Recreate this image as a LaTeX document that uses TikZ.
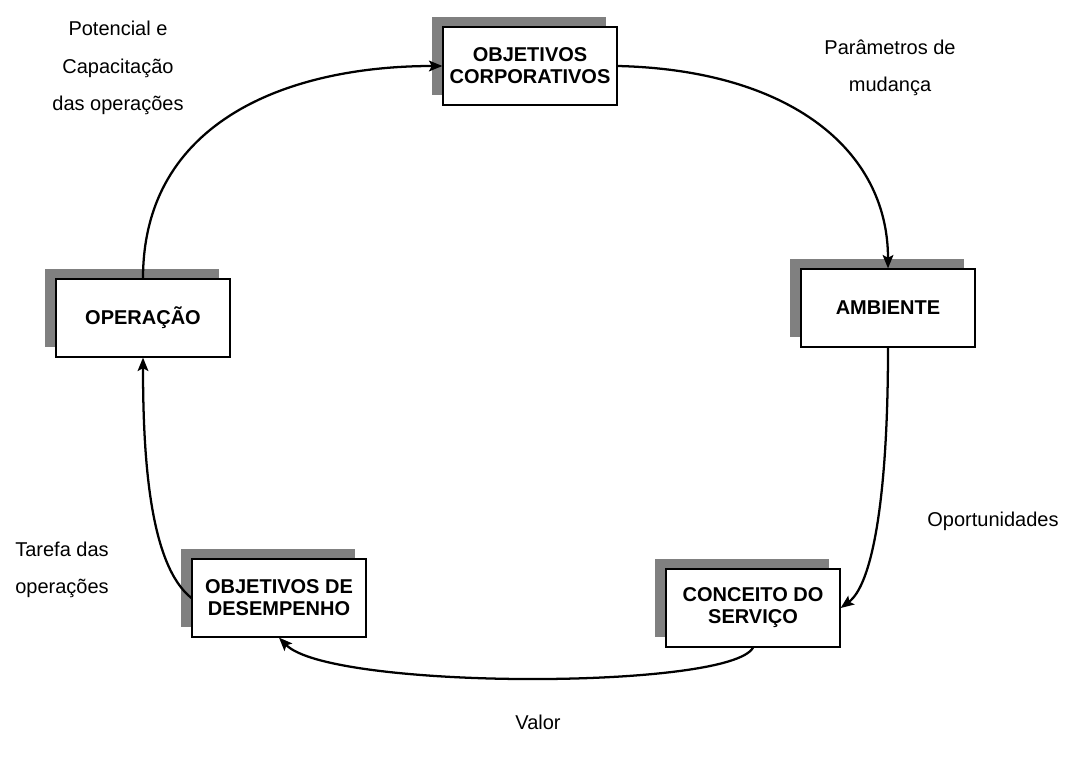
\documentclass[tikz,border=0pt]{standalone}
\usepackage{fontspec}
\setmainfont{Liberation Sans}
\usetikzlibrary{positioning, arrows.meta, shadows}
\definecolor{boxline}{RGB}{0,0,0}
\definecolor{shade}{RGB}{128,128,128}
\tikzset{
  stagebox/.style={
    rectangle, draw=boxline, line width=0.9pt,
    fill=white,
    minimum width=130.5pt, minimum height=58.5pt,
    align=center, inner sep=2pt,
    font=\fontsize{15}{16.5}\selectfont\bfseries,
    general shadow={fill=shade, shadow xshift=-8.25pt, shadow yshift=7.5pt}
  },
  cyclelabel/.style={
    align=center, inner sep=0pt,
    font=\fontsize{15}{28}\selectfont
  },
  cyclearrow/.style={
    -{Stealth[length=10pt, width=8pt, inset=2pt]}, draw=boxline, line width=1.7pt
  }
}

\begin{document}
\begin{tikzpicture}[x=0.75pt, y=-0.75pt]
  \useasboundingbox (0,0) rectangle (1069,763);

  \node[stagebox] (corp) at (530,66) {OBJETIVOS\\CORPORATIVOS};
  \node[stagebox] (amb) at (888,308) {AMBIENTE};
  \node[stagebox] (serv) at (753,608) {CONCEITO DO\\SERVIÇO};
  \node[stagebox] (desemp) at (279,598) {OBJETIVOS DE\\DESEMPENHO};
  \node[stagebox] (oper) at (143,318) {OPERAÇÃO};

  \node[cyclelabel] (potencial) at (118,68) {Potencial e\\Capacitação\\das operações};
  \node[cyclelabel] (mudanca) at (890,68) {Parâmetros de\\mudança};
  \node[cyclelabel] (oport) at (993,521) {Oportunidades};
  \node[cyclelabel] (tarefa) at (62,570) {Tarefa das\\operações};
  \node[cyclelabel] (valor) at (538,722) {Valor};

  \draw[cyclearrow] (oper.north) .. controls (143,120) and (290,66) .. (corp.west);
  \draw[cyclearrow] (corp.east) .. controls (790,70) and (888,150) .. (amb.north);
  \draw[cyclearrow] (amb.south) .. controls (888,500) and (872,585) .. (serv.east);
  \draw[cyclearrow] (serv.south) .. controls (730,690) and (330,690) .. (desemp.south);
  \draw[cyclearrow] (desemp.west) .. controls (150,565) and (143,460) .. (oper.south);
\end{tikzpicture}
\end{document}
